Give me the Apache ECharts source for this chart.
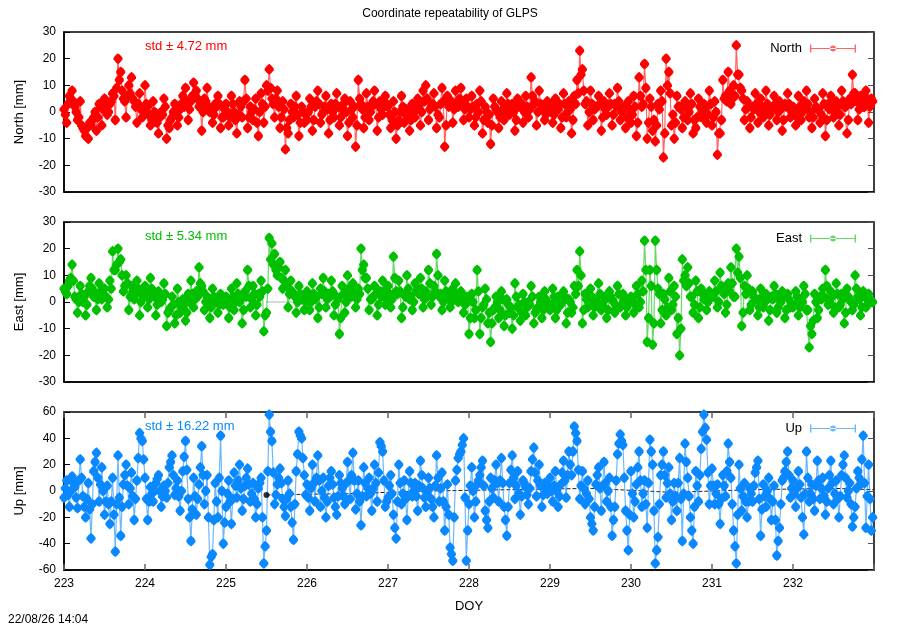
<!DOCTYPE html>
<html>
<head>
<meta charset="utf-8">
<script src="https://cdn.jsdelivr.net/npm/echarts@6/dist/echarts.min.js"></script>
<style>html,body{margin:0;padding:0;background:#fff}#c{width:900px;height:630px}</style>
</head>
<body>
<div id="c"></div>
<script>
// ---- data ----
const doyStart = 223;
const samplesPerDay = 30;           // main samples, one every 48 min
const xTickLabels = [223, 224, 225, 226, 227, 228, 229, 230, 231, 232];
const seriesNames = ['North', 'East', 'Up'];
const stdLabels = ['std \u00b1 4.72 mm', 'std \u00b1 5.34 mm', 'std \u00b1 16.22 mm'];

const northVals = [
  1,-4,6,8,2,-3,4,-6,-9,-10,-5,-2,-7,3,-5,5,-1,3,7,-3,20,15,5,-2,10,13,4,-4,7,-2,
  10,2,-5,4,-3,-8,0,5,-10,-6,-2,3,-5,1,6,9,-3,4,11,8,2,-7,5,9,0,-4,3,6,-6,-2,
  3,-5,6,0,-8,4,-2,12,-6,2,-3,5,-9,7,-4,10,16,5,-2,8,-6,4,-14,-8,3,-2,6,-9,2,-4,
  -3,5,-7,2,8,-4,0,6,-8,3,-2,7,-5,1,5,-9,4,-2,-13,12,3,-6,7,-3,2,8,-7,4,-1,6,
  2,-6,4,-10,-3,6,-4,1,-7,3,-2,5,-5,8,10,-3,2,7,-6,-2,9,-13,6,3,-4,8,2,9,-3,5,
  -2,6,-5,3,8,-8,2,-4,-12,5,1,-6,4,-3,7,-1,3,-7,5,2,-4,6,-2,13,3,-5,8,1,-3,4,
  3,-4,5,1,-6,7,-2,4,-8,6,12,23,16,3,-5,8,-3,2,6,-7,4,-1,7,-5,3,9,-3,1,-6,4,
  -4,6,-9,13,2,18,-10,5,-7,-11,3,8,-17,20,15,-5,-10,6,2,-6,4,-3,7,-8,-6,5,-2,3,-4,8,
  -5,4,-16,-8,12,6,15,3,10,25,14,8,-3,4,-6,2,7,-4,5,-2,8,-5,1,6,-3,4,-7,3,7,-2,
  2,-5,6,-3,4,8,-2,-6,5,1,-4,7,-9,3,6,-2,4,-5,8,2,-8,5,14,7,-3,6,2,8,-4,5
];
// samples half way between the main ones
const northMid = [
  -1,3,5,4,0,-2,-5,-7,-6,-4,-3,0,-2,2,1,3,0,4,6,9,12,8,4,6,7,5,2,3,1,0,
  3,-1,-3,0,-4,-2,-1,2,-5,-3,0,1,-2,3,2,4,1,6,7,5,3,0,4,2,1,-1,2,3,-2,1,
  0,-2,3,-3,-1,2,4,5,-2,0,1,-4,0,3,2,8,9,3,5,2,-2,1,-6,-3,0,2,-1,-4,0,-1,
  0,2,-3,4,3,-1,2,1,-3,0,3,2,-2,3,0,-4,1,2,-5,5,1,-2,2,0,4,3,-2,1,2,3,
  -1,-3,0,-5,0,2,-1,-2,-3,0,1,2,0,4,5,1,3,2,-1,3,4,-5,2,4,1,3,5,4,1,2,
  1,2,-2,0,4,-3,0,-1,-5,2,0,-2,1,0,3,2,0,-3,2,3,0,2,1,6,4,0,3,2,-1,1,
  0,-1,2,3,-2,3,0,1,-3,3,7,14,8,4,0,3,1,2,3,-2,1,2,3,-1,2,4,0,2,-2,1,
  -1,2,-4,6,3,9,-4,2,-3,-5,1,4,-8,10,7,-1,-4,2,1,-2,2,0,3,-3,-2,2,0,1,-1,3,
  -2,0,-8,-3,5,4,8,5,6,14,9,5,1,2,-2,1,3,0,2,0,3,-1,2,3,0,1,-3,2,3,0,
  0,-2,2,0,2,3,0,-2,2,1,-1,3,-3,1,3,0,2,-1,4,2,-3,3,7,4,1,3,2,5,2,4
];
const eastVals = [
  5,3,8,14,2,-4,6,0,-5,4,9,2,-3,7,1,5,-2,8,19,12,20,16,4,10,-3,6,1,8,-5,3,
  6,-2,9,3,-5,4,0,7,-9,-3,2,-8,5,-4,1,-7,3,8,-2,4,13,6,-3,2,-6,5,0,-4,3,-1,
  2,-6,5,-3,7,0,-8,4,12,-2,6,-5,3,8,-11,-4,24,22,18,10,15,5,12,-2,8,3,-4,6,1,-3,
  4,-3,7,1,-6,5,9,-2,3,8,-5,2,-12,6,-4,10,3,7,-2,5,20,14,9,-3,1,6,-5,4,8,-1,
  6,-2,17,4,8,-6,3,10,1,-3,7,5,9,-2,4,12,-1,6,18,2,-3,8,3,-2,5,7,0,4,-4,2,
  -12,3,-6,12,-12,-2,5,-8,-15,-3,2,-6,4,-9,1,-4,-10,7,-2,-7,3,-5,0,6,-8,-3,2,-6,4,-1,
  -3,5,-6,2,-1,4,-8,1,-4,6,12,19,-8,3,-2,5,-5,0,7,-3,2,-6,4,1,-4,6,-2,3,-5,1,
  2,-4,6,-2,8,23,-15,12,-16,23,5,-8,3,-5,9,-3,6,-12,-20,16,10,13,2,-4,8,-6,5,1,-3,4,
  3,8,-2,11,5,-4,7,13,2,20,17,-9,6,10,-3,4,1,-5,5,-2,3,-7,2,6,-4,1,4,-6,3,-2,
  -2,4,-5,1,6,-3,-17,-12,3,-6,2,5,12,-1,4,-4,7,-2,3,-8,5,1,-3,10,2,-5,4,-2,3,0
];
const eastMid = [
  4,6,9,8,1,0,3,2,-1,6,5,3,1,4,3,2,1,5,12,14,15,10,6,7,2,4,3,5,0,2,
  3,1,5,2,-1,2,1,3,-4,-2,-1,-5,0,-2,-1,-4,0,3,1,2,7,4,0,1,-2,2,1,-1,2,0,
  1,-2,2,0,3,1,-3,2,6,1,3,-1,2,4,-5,5,16,14,12,13,9,8,6,3,4,2,0,3,2,0,
  2,0,3,2,-2,3,4,1,2,4,-1,1,-6,3,0,5,2,4,1,3,12,9,5,1,2,3,-1,2,4,1,
  3,1,9,3,4,-2,2,5,2,0,4,3,5,1,2,7,2,4,10,3,0,4,2,0,2,3,1,2,-1,0,
  -6,0,-3,4,-6,-1,1,-4,-8,-2,0,-3,1,-5,-1,-2,-5,2,-1,-4,0,-2,-1,2,-4,-2,0,-3,1,-1,
  -1,2,-3,0,0,2,-4,0,-2,3,6,10,-3,1,-1,2,-2,0,3,-1,1,-3,2,0,-2,3,-1,1,-2,0,
  1,-1,3,0,4,12,-6,6,-8,12,3,-3,1,-2,4,-1,2,-6,-10,8,6,7,2,-1,4,-2,3,1,0,2,
  2,4,0,6,3,-1,4,7,2,11,9,-4,3,5,-1,2,1,-2,2,0,1,-3,1,3,-2,0,2,-3,1,-1,
  -1,2,-2,0,3,-3,-9,-7,0,-3,1,2,6,0,2,-2,3,-1,1,-4,2,0,-1,5,1,-2,2,-1,1,0
];
const upVals = [
  -5,8,-12,11,3,-13,24,-4,-20,6,-36,15,29,-8,18,-18,4,-25,10,-46,27,-34,5,20,-10,14,-22,8,44,38,
  10,-22,3,-8,6,12,-12,4,-5,18,27,-3,8,-15,15,38,-6,-38,10,-18,5,34,-10,12,-56,-48,6,-20,42,-40,
  -12,8,-25,14,-5,20,-15,4,17,-8,6,-20,2,10,-55,-30,58,38,-10,5,17,-6,-19,8,-12,-37,15,45,40,12,
  5,-15,20,-8,27,-12,10,-20,4,15,-5,-18,12,2,-10,22,-6,29,-14,8,-26,18,-4,10,-15,20,-8,37,30,-12,
  -5,12,-18,-36,20,-10,8,-22,15,-4,6,-15,23,2,-12,10,-6,-20,27,-8,14,-30,5,-43,-53,8,25,30,40,-53,
  -10,18,-20,5,12,23,-15,-28,10,-5,20,-8,25,-12,-34,6,27,-6,15,-18,8,3,-10,15,33,-4,20,-12,6,-2,
  10,-8,15,-12,5,23,-5,30,12,49,38,-6,15,-10,8,-20,-30,5,18,-15,22,-8,10,-34,-12,28,43,35,-15,-45,
  15,-20,5,30,-12,8,-28,39,20,-55,-35,12,30,-5,18,-22,6,-15,25,-38,36,10,-20,-40,15,-8,32,58,39,-10,
  17,-10,5,-25,12,-4,36,10,-30,-55,20,-15,6,-20,2,-8,14,23,-34,5,-12,10,-22,4,-49,-28,8,15,30,-5,
  8,-12,15,-5,-33,30,-8,5,-15,23,-6,10,-18,2,23,-10,8,-20,12,27,-5,6,-27,-12,15,5,42,-28,20,-30
];
const upMid = [
  2,-3,0,6,-5,8,10,-12,-6,-14,-10,22,10,5,0,-8,-10,-8,-18,-10,-5,-12,12,4,2,-4,-6,25,40,24,
  -6,-8,-2,0,9,0,-4,0,6,22,12,2,-4,0,26,16,-20,-14,-4,-6,18,12,0,-20,-50,-22,-8,10,0,-24,
  -2,-8,-6,4,8,2,-6,10,5,-2,-6,-10,6,-20,-42,15,45,14,-3,10,6,-12,-6,-2,-24,-10,28,42,25,-3,
  -5,2,6,10,8,0,-5,-8,10,5,-12,-4,6,-4,6,8,12,8,-2,-8,-4,6,2,-2,2,6,14,34,8,-8,
  4,-2,-28,-8,6,-2,-6,-4,6,0,-4,4,12,-5,-2,2,-12,4,10,2,-8,-12,-18,-48,-20,16,28,35,-5,-30,
  4,0,-8,8,18,4,-22,-8,2,8,6,8,6,-22,-12,16,10,4,-2,-4,6,-3,2,24,14,8,4,-3,2,4,
  0,4,0,-4,14,8,12,20,30,44,16,4,2,-2,-6,-25,-12,12,2,4,6,0,-12,-22,8,36,38,10,-30,-18,
  -2,-8,18,8,-2,-10,6,30,-15,-45,-10,20,12,6,-2,-8,-4,6,-6,-2,22,-4,-30,-12,4,12,45,48,14,4,
  4,-2,-10,-6,4,15,22,-10,-42,-18,2,-4,-8,-8,-2,4,18,-6,-14,-4,0,-6,-8,-22,-38,-10,10,22,12,2,
  -2,2,5,-20,-2,10,-2,-6,4,8,2,-4,-8,12,6,-2,-6,-4,20,10,0,-10,-20,2,10,24,6,-4,-6,-20
];
// black reference (mean) segments, mostly hidden beneath the data
const refUpDoy = [225.5, 226.5, 227.5, 228.5, 229.5, 230.5, 231.5, 232.5, 233];
const refUp = [-3, -2, 0, 1, 2, -1, 1, 2, 1];
const refEastDoy = [225.5, 226.2];
const refEast = [0, 0];
const refUpPoint = [[225.5, -3]];

// ---- styles ----
const colors = ['#ff0000', '#00c000', '#0a88ff'];
const lineColors = ['rgba(255,0,0,0.6)', 'rgba(0,192,0,0.6)', 'rgba(10,136,255,0.6)'];
const yRanges = [[-30, 30, 10], [-30, 30, 10], [-60, 60, 20]];
const yNames = ['North [mm]', 'East [mm]', 'Up [mm]'];
const gridTops = [32, 222, 412];
const gridHeights = [160, 160, 158];
const FONT = 'Liberation Sans, Arial, sans-serif';

function toPts(vals, mids) {
  const out = [];
  const step = 1 / samplesPerDay;
  vals.forEach((v, i) => {
    out.push([doyStart + i * step, v]);
    out.push([doyStart + (i + 0.5) * step, mids[i]]);
  });
  return out;
}
function pairPts(xs, ys) { return ys.map((v, i) => [xs[i], v]); }

// rounded-diamond point marker
const markSym = 'path://M5,0L7,2L9,5L9,7L7,10L5,12L3,10L1,7L1,5L3,2Z';
const errIcon = 'path://M0,0H1.4V8H0Z M0,3.4H46V4.6H0Z M44.6,0H46V8H44.6Z M20,4A3,3 0 1,0 26,4A3,3 0 1,0 20,4Z';

const grids = [], xAxes = [], yAxes = [], series = [], legends = [], graphics = [];
const allVals = [northVals, eastVals, upVals];
const allMids = [northMid, eastMid, upMid];

for (let g = 0; g < 3; g++) {
  grids.push({ left: 64, right: 26, top: gridTops[g], height: gridHeights[g], show: true, borderColor: '#000', borderWidth: 1.5, backgroundColor: 'transparent' });
  xAxes.push({
    type: 'value', gridIndex: g, min: 223, max: 233, interval: 1,
    axisLine: { show: true, onZero: false, lineStyle: { color: '#000', width: 1.5 } },
    axisTick: { show: g === 2, inside: true, length: 6, lineStyle: { color: '#666', width: 1.5 } },
    axisLabel: { show: g === 2, color: '#000', fontFamily: FONT, fontSize: 12, margin: 8,
      formatter: v => (xTickLabels.indexOf(v) >= 0 ? String(v) : '') },
    splitLine: { show: false },
    name: g === 2 ? 'DOY' : '', nameLocation: 'middle', nameGap: 30,
    nameTextStyle: { color: '#000', fontFamily: FONT, fontSize: 13 }
  });
  if (g === 2) {
    xAxes.push({
      type: 'value', gridIndex: g, position: 'top', min: 223, max: 233, interval: 1,
      axisLine: { show: false, onZero: false }, axisLabel: { show: false }, splitLine: { show: false },
      axisTick: { show: true, inside: true, length: 6, lineStyle: { color: '#666', width: 1.5 } }
    });
  }
  const [mn, mx, iv] = yRanges[g];
  yAxes.push({
    type: 'value', gridIndex: g, min: mn, max: mx, interval: iv,
    axisLine: { show: true, onZero: false, lineStyle: { color: '#000', width: 1.5 } },
    axisTick: { show: true, inside: true, length: 6, lineStyle: { color: '#000' } },
    axisLabel: { color: '#000', fontFamily: FONT, fontSize: 12, margin: 8 },
    splitLine: { show: false },
    name: yNames[g], nameLocation: 'middle', nameGap: 38, nameRotate: 90,
    nameTextStyle: { color: '#000', fontFamily: FONT, fontSize: 13 }
  });
  yAxes.push({
    type: 'value', gridIndex: g, position: 'right', min: mn, max: mx, interval: iv,
    axisLine: { show: false, onZero: false }, axisLabel: { show: false }, splitLine: { show: false },
    axisTick: { show: true, inside: true, length: 6, lineStyle: { color: '#555' } }
  });
}
const xIdx = [0, 1, 2];
const yIdx = [0, 2, 4];

series.push({
  name: 'East ref', type: 'line', xAxisIndex: 1, yAxisIndex: 2,
  data: pairPts(refEastDoy, refEast), symbol: 'none', z: 1, silent: true,
  lineStyle: { color: '#666', width: 1, type: 'dotted' }
});
series.push({
  name: 'Up ref', type: 'line', xAxisIndex: 2, yAxisIndex: 4,
  data: pairPts(refUpDoy, refUp), symbol: 'none', z: 1, silent: true,
  lineStyle: { color: '#222', width: 1, type: 'dashed' }
});

for (let g = 0; g < 3; g++) {
  series.push({
    name: seriesNames[g], type: 'line', xAxisIndex: xIdx[g], yAxisIndex: yIdx[g],
    data: toPts(allVals[g], allMids[g]), symbol: markSym, symbolSize: [9, 11], showSymbol: true,
    showAllSymbol: true, z: 3, clip: true,
    itemStyle: { color: colors[g] },
    lineStyle: { color: lineColors[g], width: 1.2 }
  });
  legends.push({
    data: [{ name: seriesNames[g], icon: errIcon, itemStyle: { color: lineColors[g] } }],
    right: 44, top: gridTops[g] + 10, align: 'right', orient: 'vertical',
    itemWidth: 46, itemHeight: 8, itemGap: 0, padding: 0,
    textStyle: { color: '#000', fontFamily: FONT, fontSize: 13, padding: [0, 3, 0, 0] },
    selectedMode: false
  });
  graphics.push({
    type: 'text', left: 145, top: gridTops[g] + 8, z: 0,
    style: { text: stdLabels[g], fill: colors[g], font: '13px ' + FONT }
  });
}
series.push({
  name: 'Up ref point', type: 'scatter', xAxisIndex: 2, yAxisIndex: 4,
  data: refUpPoint, symbol: 'circle', symbolSize: 6, z: 5, silent: true,
  itemStyle: { color: '#000' }
});
graphics.push({ type: 'text', left: 8, top: 614, style: { text: '22/08/26 14:04', fill: '#000', font: '12px ' + FONT } });

const option = {
  animation: false,
  backgroundColor: '#fff',
  title: { text: 'Coordinate repeatability of GLPS', left: 'center', top: 3,
    textStyle: { color: '#000', fontFamily: FONT, fontSize: 12, fontWeight: 'normal' } },
  grid: grids, xAxis: xAxes, yAxis: yAxes, legend: legends, series: series, graphic: graphics
};
const chart = echarts.init(document.getElementById('c'), null, { renderer: 'canvas' });
chart.setOption(option);
</script>
</body>
</html>
